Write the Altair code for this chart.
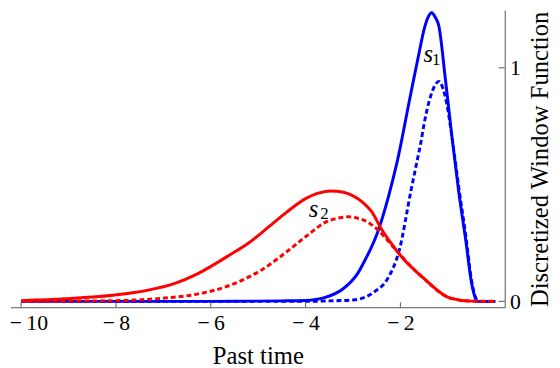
import altair as alt
import pandas as pd

# ---- data ----
s1_solid_x = [-10.0, -6.0, -4.5, -4.0, -3.6, -3.2, -2.9, -2.75, -2.5, -2.25, -2.07, -1.8, -1.6, -1.5, -1.42, -1.34, -1.26, -1.19, -1.05, -0.91, -0.77, -0.62, -0.5, -0.42, -0.36, 0.0]
s1_solid_y = [0.0, 0.0, 0.002, 0.004, 0.016, 0.055, 0.12, 0.175, 0.285, 0.45, 0.596, 0.87, 1.07, 1.165, 1.215, 1.236, 1.215, 1.18, 0.95, 0.70, 0.47, 0.26, 0.08, 0.015, 0.0, 0.0]

s1_dot_x = [-10.0, -4.0, -3.5, -2.96, -2.54, -2.27, -2.02, -1.78, -1.64, -1.57, -1.5, -1.36, -1.27, -1.19, -1.1, -1.02, -0.915, -0.84, -0.77, -0.62, -0.5, -0.42, -0.35, 0.0]
s1_dot_y = [0.0, 0.0, 0.002, 0.007, 0.042, 0.097, 0.222, 0.471, 0.609, 0.678, 0.76, 0.88, 0.925, 0.942, 0.91, 0.845, 0.707, 0.596, 0.49, 0.28, 0.09, 0.02, 0.0, 0.0]

s2_solid_x = [-10.0, -9.06, -8.02, -7.32, -6.77, -6.28, -5.59, -5.2, -4.83, -4.41, -4.0, -3.75, -3.48, -3.2, -3.03, -2.8, -2.61, -2.4, -2.2, -1.99, -1.5, -0.95, -0.5, 0.0]
s2_solid_y = [0.003, 0.011, 0.027, 0.048, 0.076, 0.118, 0.2, 0.25, 0.31, 0.38, 0.44, 0.462, 0.473, 0.467, 0.455, 0.425, 0.385, 0.31, 0.25, 0.194, 0.097, 0.014, 0.001, 0.0]

s2_dot_x = [-10.0, -8.02, -6.98, -6.28, -5.59, -4.9, -4.35, -3.93, -3.58, -3.3, -3.1, -2.9, -2.75, -2.47, -2.2, -1.99, -1.5, -0.95, -0.5, 0.0]
s2_dot_y = [0.0, 0.003, 0.014, 0.031, 0.069, 0.138, 0.22, 0.288, 0.339, 0.357, 0.362, 0.356, 0.346, 0.305, 0.245, 0.196, 0.097, 0.014, 0.001, 0.0]

x_ticks = [-10, -8, -6, -4, -2]
y_ticks = [0, 1]

# curve labels
lab_text = ["s", "1", "s", "2"]
lab_x = [-1.41, -1.243, -3.83, -3.6]
lab_y = [1.024, 1.011, 0.363, 0.352]

W, H = 501, 301
XDOM = [-10.214, 0.2]
YDOM = [-0.0252, 1.245]
FONT = "Liberation Serif"
AXC = "#555555"

xs = alt.Scale(domain=XDOM, nice=False, zero=False)
ys = alt.Scale(domain=YDOM, nice=False, zero=False)

xax = alt.Axis(values=x_ticks, title="Past time", ticks=False, domain=False, labelPadding=6,
               labelFont=FONT, labelFontSize=22, labelColor="black",
               labelExpr="datum.value < 0 ? '\u2212\u2009' + abs(datum.value) : datum.label",
               labelFlush=15, labelFlushOffset=12,
               titleFont=FONT, titleFontSize=25, titleFontWeight="normal", titleColor="black",
               titleBaseline="alphabetic", titleY=57, titleX=W / 2, grid=False)
yax = alt.Axis(orient="right", values=y_ticks, title="Discretized Window Function",
               ticks=False, domain=False, labelPadding=5, labelFont=FONT, labelFontSize=22,
               labelColor="black", labelBaseline="middle", labelFlush=False,
               titleFont=FONT, titleFontSize=25, titleFontWeight="normal", titleColor="black",
               titleAngle=270, titleBaseline="alphabetic", titleAlign="center",
               titleX=43, titleY=H / 2, grid=False, format="d")

X = alt.X("x:Q", scale=xs, axis=xax)
Y = alt.Y("y:Q", scale=ys, axis=yax)


def line(xv, yv, color, dash=None):
    df = pd.DataFrame({"x": xv, "y": yv})
    kw = dict(color=color, strokeWidth=3, interpolate="monotone", clip=False)
    if dash:
        kw["strokeDash"] = dash
    return alt.Chart(df).mark_line(**kw).encode(x=X, y=Y)


# frame: bottom and right lines, with inward-pointing ticks
bottom_line = alt.Chart(pd.DataFrame({"x": [0]})).mark_rule(color=AXC, strokeWidth=1).encode(
    x=alt.value(0), x2=alt.value(W), y=alt.value(H + 0.5))
right_line = alt.Chart(pd.DataFrame({"x": [0]})).mark_rule(color=AXC, strokeWidth=1).encode(
    x=alt.value(W + 0.5), y=alt.value(0), y2=alt.value(H + 1))
xticks = alt.Chart(pd.DataFrame({"x": x_ticks})).mark_rule(color=AXC, strokeWidth=1).encode(
    x=X, y=alt.value(H - 5), y2=alt.value(H),
)
yticks = alt.Chart(pd.DataFrame({"y": y_ticks})).mark_rule(color=AXC, strokeWidth=1).encode(
    y=Y, x=alt.value(W - 6), x2=alt.value(W),
)

lab_df = pd.DataFrame({"t": lab_text, "x": lab_x, "y": lab_y})
s_marks = alt.Chart(lab_df).transform_filter("datum.t == 's'").mark_text(
    font=FONT, fontSize=25, fontStyle="italic", baseline="alphabetic", align="center", color="black"
).encode(x=X, y=Y, text="t:N")
sub_marks = alt.Chart(lab_df).transform_filter("datum.t != 's'").mark_text(
    font=FONT, fontSize=17, baseline="alphabetic", align="center", color="black"
).encode(x=X, y=Y, text="t:N")

chart = alt.layer(
    line(s1_solid_x, s1_solid_y, "#0000FF"),
    line(s2_solid_x, s2_solid_y, "#FF0000"),
    line(s1_dot_x, s1_dot_y, "#0000FF", [5, 3]),
    line(s2_dot_x, s2_dot_y, "#FF0000", [5, 3]),
    bottom_line, right_line, xticks, yticks,
    s_marks, sub_marks,
).properties(
    width=W, height=H,
    autosize=alt.AutoSizeParams(type="none"),
    padding={"left": 3, "top": 0, "right": 48, "bottom": 59},
).configure(background="white").configure_view(strokeWidth=0, stroke="transparent")

chart.save("out.html", embed_options={"renderer": "svg", "actions": False})
